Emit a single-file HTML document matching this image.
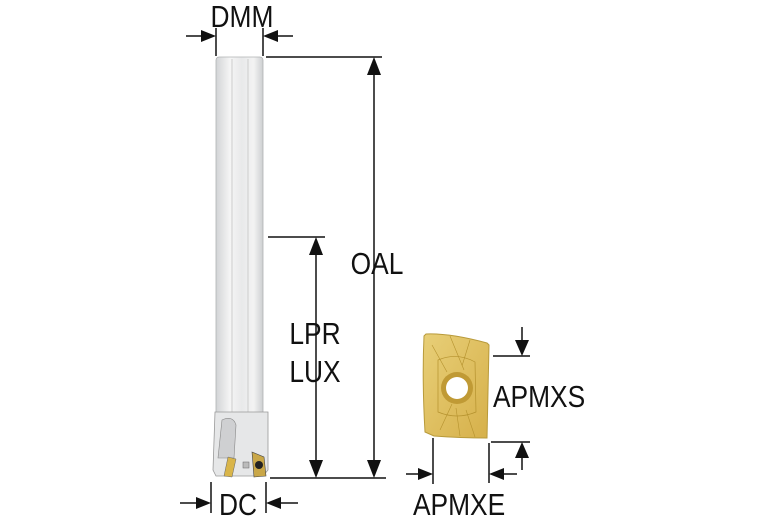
<html><body style="margin:0;background:#fff">
<svg width="767" height="523" viewBox="0 0 767 523" xmlns="http://www.w3.org/2000/svg" style="display:block">
<defs>
<linearGradient id="sh" x1="0" x2="1"><stop offset="0" stop-color="#d2d4d6"/><stop offset="0.3" stop-color="#f5f5f5"/><stop offset="0.55" stop-color="#e8e9ea"/><stop offset="0.8" stop-color="#f3f3f3"/><stop offset="1" stop-color="#cdcfd1"/></linearGradient>
<linearGradient id="gd" x1="0" y1="0" x2="1" y2="1"><stop offset="0" stop-color="#e8cf78"/><stop offset="1" stop-color="#d6b04a"/></linearGradient>
</defs>
<g stroke="#111" stroke-width="1.5" fill="none">
<line x1="216" y1="28" x2="216" y2="56"/><line x1="263" y1="28" x2="263" y2="56"/>
<line x1="186" y1="36" x2="204" y2="36"/><line x1="275" y1="36" x2="293" y2="36"/>
<line x1="266" y1="57" x2="382" y2="57"/><line x1="374" y1="70" x2="374" y2="466"/>
<line x1="268" y1="237" x2="325" y2="237"/><line x1="316" y1="250" x2="316" y2="466"/>
<line x1="270" y1="478" x2="386" y2="478"/>
<line x1="211" y1="482" x2="211" y2="513"/><line x1="266" y1="482" x2="266" y2="513"/>
<line x1="180" y1="503" x2="199" y2="503"/><line x1="278" y1="503" x2="298" y2="503"/>
<line x1="493" y1="356" x2="530" y2="356"/><line x1="522" y1="327" x2="522" y2="345"/>
<line x1="491" y1="442" x2="530" y2="442"/><line x1="522" y1="455" x2="522" y2="470"/>
<line x1="433" y1="438" x2="433" y2="484"/><line x1="489" y1="443" x2="489" y2="483"/>
<line x1="406" y1="474" x2="421" y2="474"/><line x1="501" y1="474" x2="517" y2="474"/>
</g>
<g fill="#111">
<polygon points="216,36 201,30 201,42"/><polygon points="263,36 278,30 278,42"/>
<polygon points="374,57 367,75 381,75"/><polygon points="374,478 367,460 381,460"/>
<polygon points="316,237 309,255 323,255"/><polygon points="316,478 309,460 323,460"/>
<polygon points="211,503 196,497 196,509"/><polygon points="266,503 281,497 281,509"/>
<polygon points="522,356 515,340 529,340"/><polygon points="522,442 515,458 529,458"/>
<polygon points="433,474 418,468 418,480"/><polygon points="489,474 504,468 504,480"/>
</g>
<rect x="216" y="57" width="47" height="358" rx="3" fill="url(#sh)" stroke="#b0b2b4" stroke-width="0.8"/>
<line x1="232" y1="59" x2="232" y2="412" stroke="#c4c4c4" stroke-width="0.8"/>
<line x1="248" y1="59" x2="248" y2="412" stroke="#c4c4c4" stroke-width="0.8"/>
<path d="M215,412 L268,412 L268,470 L263,476 L216,476 L213,470 Z" fill="#e6e7e8" stroke="#999" stroke-width="0.8"/>
<path d="M222,420 Q233,415 236,425 L234,458 L218,458 Z" fill="#cfd0d2" stroke="#888" stroke-width="0.6"/>
<polygon points="228,457 236,459 232,477 224,476" fill="#d9b54a" stroke="#666" stroke-width="0.5"/>
<polygon points="252,452 264,457 266,476 254,477" fill="#c9a748" stroke="#444" stroke-width="0.6"/>
<circle cx="259" cy="465" r="4" fill="#222"/>
<rect x="243" y="462" width="6" height="6" fill="#bbb" stroke="#666" stroke-width="0.5"/>
<path d="M426,334 Q450,333 487,343 L489,345 L487,438 Q460,438 434,436 L425,432 Q422,380 424,336 Z" fill="url(#gd)" stroke="#b89a3a" stroke-width="1"/>
<path d="M438,360 Q457,352 475,362 L476,412 Q457,420 438,412 Z" fill="none" stroke="#b5922e" stroke-width="0.7"/>
<path d="M432,345 L447,372 M450,336 L464,370 M470,340 L462,366 M440,430 L452,404 M460,436 L456,408 M475,437 L466,410" stroke="#b5922e" stroke-width="0.6"/>
<circle cx="457" cy="388" r="16" fill="#c09a35"/>
<circle cx="457" cy="388" r="11" fill="#fff"/>
<g font-family="Liberation Sans, sans-serif" font-size="31" fill="#111">
<text x="242" y="27" text-anchor="middle" transform="translate(242 0) scale(0.85 1) translate(-242 0)">DMM</text>
<text x="377" y="274" text-anchor="middle" transform="translate(377 0) scale(0.85 1) translate(-377 0)">OAL</text>
<text x="315" y="344" text-anchor="middle" transform="translate(315 0) scale(0.85 1) translate(-315 0)">LPR</text>
<text x="315" y="382" text-anchor="middle" transform="translate(315 0) scale(0.85 1) translate(-315 0)">LUX</text>
<text x="238" y="515" text-anchor="middle" transform="translate(238 0) scale(0.85 1) translate(-238 0)">DC</text>
<text x="493" y="407" transform="translate(493 0) scale(0.85 1) translate(-493 0)">APMXS</text>
<text x="413" y="515" transform="translate(413 0) scale(0.85 1) translate(-413 0)">APMXE</text>
</g>
</svg>
</body></html>
